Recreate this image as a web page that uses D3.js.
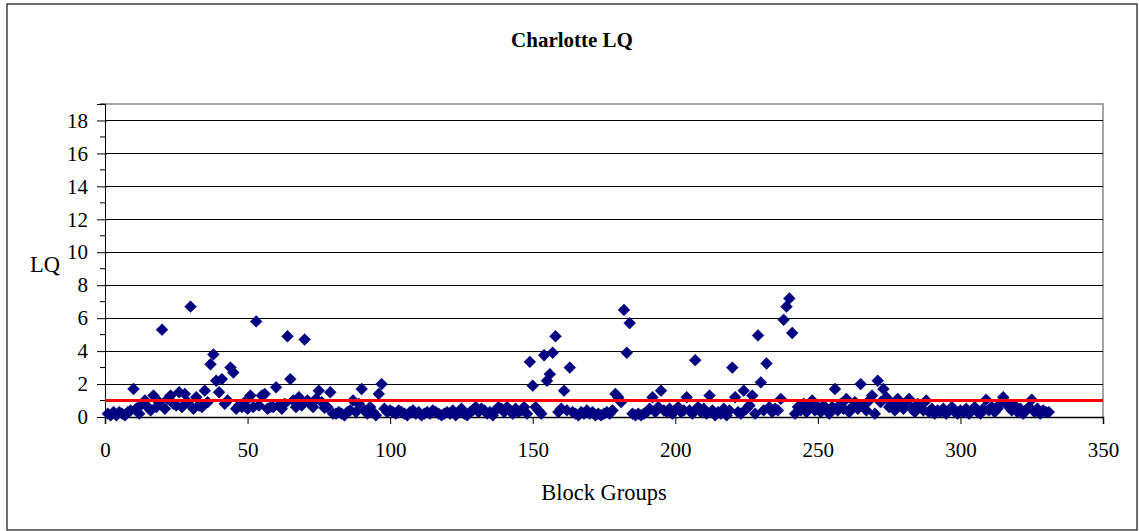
<!DOCTYPE html>
<html>
<head>
<meta charset="utf-8">
<script src="https://cdn.jsdelivr.net/npm/d3@7"></script>
<style>
  body { margin: 0; background: #fff; }
  text { font-family: "Liberation Serif", "Times New Roman", serif; fill: #000; }
</style>
</head>
<body>
<svg id="chart" width="1139" height="531"></svg>
<script>
// Location quotient for each block group, in block-group order (1..331)
const lqValues = [
  0.2, 0.1, 0.3, 0.1, 0.3, 0.2, 0.1, 0.3, 0.4, 1.7,
  0.5, 0.2, 0.8, 1.0, 0.6, 0.4, 1.3, 0.6, 0.9, 5.3,
  0.5, 1.1, 1.3, 0.8, 0.7, 1.5, 0.6, 1.4, 0.9, 6.7,
  0.5, 1.2, 0.7, 0.6, 1.6, 0.9, 3.2, 3.8, 2.2, 1.5,
  2.3, 0.8, 1.0, 3.0, 2.7, 0.5, 0.7, 0.6, 0.9, 0.5,
  1.3, 0.6, 5.8, 0.7, 1.3, 1.4, 0.5, 0.6, 0.6, 1.8,
  0.7, 0.5, 0.8, 4.9, 2.3, 1.0, 0.6, 1.2, 0.7, 4.7,
  1.0, 0.8, 0.6, 1.1, 1.6, 0.9, 0.55, 0.6, 1.5, 0.2,
  0.2, 0.3, 0.2, 0.1, 0.3, 0.4, 1.0, 0.3, 0.8, 1.7,
  0.4, 0.2, 0.6, 0.3, 0.1, 1.4, 2.0, 0.5, 0.3, 0.4,
  0.3, 0.2, 0.4, 0.3, 0.2, 0.1, 0.3, 0.4, 0.2, 0.3,
  0.1, 0.2, 0.3, 0.2, 0.4, 0.3, 0.2, 0.1, 0.2, 0.3,
  0.2, 0.4, 0.1, 0.3, 0.5, 0.2, 0.1, 0.3, 0.4, 0.6,
  0.3, 0.5, 0.4, 0.2, 0.3, 0.1, 0.4, 0.6, 0.5, 0.3,
  0.6, 0.4, 0.2, 0.5, 0.3, 0.4, 0.6, 0.2, 3.35, 1.9,
  0.6, 0.4, 0.2, 3.75, 2.2, 2.6, 3.9, 4.9, 0.3, 0.5,
  1.6, 0.4, 3.0, 0.3, 0.2, 0.1, 0.3, 0.2, 0.4, 0.2,
  0.3, 0.1, 0.2, 0.1, 0.2, 0.3, 0.2, 0.4, 1.4, 1.2,
  0.9, 6.5, 3.9, 5.7, 0.2, 0.1, 0.2, 0.1, 0.2, 0.3,
  0.5, 1.2, 0.3, 0.6, 1.6, 0.4, 0.3, 0.5, 0.2, 0.4,
  0.6, 0.3, 0.4, 1.2, 0.4, 0.2, 3.45, 0.6, 0.3, 0.5,
  0.2, 1.3, 0.4, 0.1, 0.3, 0.2, 0.5, 0.1, 0.4, 3.0,
  1.2, 0.3, 0.2, 1.6, 0.5, 0.7, 1.3, 0.2, 4.95, 2.1,
  0.4, 3.25, 0.6, 0.3, 0.5, 0.4, 1.1, 5.9, 6.7, 7.2,
  5.1, 0.2, 0.6, 0.4, 0.8, 0.3, 0.5, 1.0, 0.4, 0.6,
  0.3, 0.7, 0.5, 0.2, 0.6, 1.7, 0.4, 0.8, 0.5, 1.1,
  0.3, 0.6, 0.9, 0.5, 2.0, 0.7, 0.4, 1.0, 1.3, 0.2,
  2.2, 0.9, 1.7, 1.2, 0.6, 0.8, 0.4, 1.1, 0.7, 0.5,
  0.9, 1.1, 0.5, 0.3, 0.8, 0.6, 0.4, 1.0, 0.3, 0.5,
  0.2, 0.4, 0.3, 0.5, 0.2, 0.4, 0.6, 0.3, 0.2, 0.4,
  0.3, 0.5, 0.2, 0.4, 0.6, 0.3, 0.2, 0.5, 1.05, 0.4,
  0.6, 0.3, 0.5, 0.8, 1.2, 0.9, 0.6, 0.4, 0.7, 0.3,
  0.5, 0.2, 0.4, 0.6, 1.05, 0.3, 0.5, 0.2, 0.4, 0.3,
  0.3
];
const yTickValues = [0, 2, 4, 6, 8, 10, 12, 14, 16, 18];
const yMinorTicks = [1, 3, 5, 7, 9, 11, 13, 15, 17, 19];
const xTickValues = [0, 50, 100, 150, 200, 250, 300, 350];
const referenceLQ = [1];
const chartTitle = "Charlotte LQ";
const xTitle = "Block Groups";
const yTitle = "LQ";

const svg = d3.select("#chart");
const plot = { left: 105, right: 1103, top: 104, bottom: 417 };

const x = d3.scaleLinear().domain([0, 350]).range([plot.left, plot.right]);
const y = d3.scaleLinear().domain([0, 19]).range([plot.bottom, plot.top]);

// outer chart frame
svg.append("rect")
  .attr("x", 7).attr("y", 4).attr("width", 1130).attr("height", 526)
  .attr("fill", "#fff").attr("stroke", "#222").attr("stroke-width", 1.3);

// plot-area frame (top and right edges in grey)
svg.append("path")
  .attr("d", `M${plot.left},${plot.top}H${plot.right}V${plot.bottom}`)
  .attr("fill", "none").attr("stroke", "#888").attr("stroke-width", 1.5);

// horizontal gridlines
svg.append("g").selectAll("line")
  .data(yTickValues.filter(d => d > 0))
  .join("line")
  .attr("x1", plot.left).attr("x2", plot.right)
  .attr("y1", d => Math.round(y(d)) + 0.5).attr("y2", d => Math.round(y(d)) + 0.5)
  .attr("stroke", "#000").attr("stroke-width", 1);

// y axis
const yAxis = d3.axisLeft(y).tickValues(yTickValues).tickSize(8).tickPadding(9);
const gy = svg.append("g").attr("transform", `translate(${plot.left},0)`).call(yAxis);
gy.selectAll("text").style("font-size", "21px").style("font-family", "Liberation Serif");
gy.select(".domain").attr("stroke", "#000");
gy.selectAll(".tick line").attr("x1", 2);
svg.append("g").selectAll("line")
  .data(yMinorTicks)
  .join("line")
  .attr("x1", plot.left - 5).attr("x2", plot.left)
  .attr("y1", d => y(d)).attr("y2", d => y(d))
  .attr("stroke", "#000");

// x axis
const xAxis = d3.axisBottom(x).tickValues(xTickValues).tickSize(7).tickPadding(18);
const gx = svg.append("g").attr("transform", `translate(0,${plot.bottom})`).call(xAxis);
gx.selectAll("text").style("font-size", "21px").style("font-family", "Liberation Serif");
gx.select(".domain").attr("stroke", "#000").attr("stroke-width", 1.5);

// markers: square diamonds for each block group
const diamond = d3.symbol().type(d3.symbolSquare).size(70);
svg.append("g").selectAll("path")
  .data(lqValues)
  .join("path")
  .attr("d", diamond)
  .attr("transform", (d, i) => `translate(${x(i + 1)},${y(d)}) rotate(45)`)
  .attr("fill", "#000080")
  .attr("stroke", "#000080")
  .attr("stroke-width", 0.5);

// LQ = 1 reference line
svg.append("g").selectAll("line")
  .data(referenceLQ)
  .join("line")
  .attr("x1", plot.left).attr("x2", plot.right)
  .attr("y1", d => y(d)).attr("y2", d => y(d))
  .attr("stroke", "#ff0000").attr("stroke-width", 3);

// titles
svg.append("text")
  .attr("x", 572).attr("y", 47)
  .attr("text-anchor", "middle")
  .style("font-size", "21px").style("font-weight", "bold")
  .text(chartTitle);

svg.append("text")
  .attr("x", 604).attr("y", 500)
  .attr("text-anchor", "middle")
  .style("font-size", "22.5px")
  .text(xTitle);

svg.append("text")
  .attr("x", 45).attr("y", 272)
  .attr("text-anchor", "middle")
  .style("font-size", "22.5px")
  .text(yTitle);
</script>
</body>
</html>
